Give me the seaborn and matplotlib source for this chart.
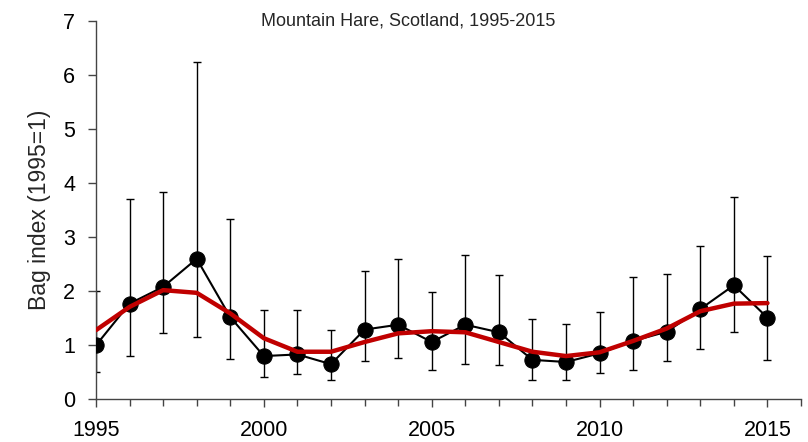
import numpy as np
import pandas as pd
import matplotlib
matplotlib.use("Agg")
import matplotlib.pyplot as plt
import seaborn as sns
from matplotlib.ticker import MultipleLocator

years = list(range(1995, 2016))
index_vals = [1.00, 1.77, 2.08, 2.60, 1.52, 0.80, 0.83, 0.65, 1.29, 1.38, 1.06,
              1.38, 1.24, 0.73, 0.69, 0.85, 1.08, 1.25, 1.67, 2.11, 1.51]
lower_ci = [0.51, 0.80, 1.23, 1.15, 0.74, 0.41, 0.47, 0.36, 0.70, 0.76, 0.54,
            0.66, 0.63, 0.36, 0.36, 0.48, 0.54, 0.71, 0.93, 1.25, 0.73]
upper_ci = [2.00, 3.70, 3.83, 6.24, 3.34, 1.65, 1.65, 1.28, 2.37, 2.59, 1.99,
            2.67, 2.30, 1.49, 1.40, 1.61, 2.26, 2.31, 2.84, 3.75, 2.66]
smoothed = [1.28, 1.71, 2.02, 1.97, 1.59, 1.13, 0.88, 0.88, 1.06, 1.22, 1.26,
            1.24, 1.06, 0.88, 0.80, 0.87, 1.08, 1.31, 1.63, 1.77, 1.78]

df = pd.DataFrame({"year": years, "index": index_vals, "lo": lower_ci,
                   "hi": upper_ci, "smooth": smoothed})

sns.set_theme(style="white")
plt.rcParams["font.family"] = ["Liberation Sans", "DejaVu Sans"]

fig = plt.figure(figsize=(8.08, 4.42), dpi=100)
ax = fig.add_axes([96 / 808, 1 - 399.3 / 442, (801 - 96) / 808, (399.3 - 21) / 442])

ax.errorbar(df["year"], df["index"],
            yerr=[df["index"] - df["lo"], df["hi"] - df["index"]],
            fmt="none", ecolor="black", elinewidth=1.0, capsize=3.2, capthick=1.0, zorder=2)
sns.lineplot(data=df, x="year", y="index", ax=ax, color="black", linewidth=1.5,
             marker="o", markersize=11, markeredgecolor="black", zorder=3)
sns.lineplot(data=df, x="year", y="smooth", ax=ax, color="#C00000", linewidth=3.2, zorder=4)

ax.set_xlim(1995, 2016)
ax.set_ylim(0, 7)
ax.xaxis.set_minor_locator(MultipleLocator(1))
ax.yaxis.set_major_locator(MultipleLocator(1))
ax.set_xticks([1995, 2000, 2005, 2010, 2015])
ax.tick_params(axis="both", which="major", direction="out", length=6, width=1,
               color="#444444", labelsize=15.5, labelcolor="black", bottom=True, left=True)
ax.tick_params(axis="x", which="minor", direction="out", length=5, width=1,
               color="#444444", bottom=True)
ax.tick_params(axis="x", which="major", pad=9)
ax.tick_params(axis="y", which="major", pad=9)
for side in ["top", "right"]:
    ax.spines[side].set_visible(False)
for side in ["left", "bottom"]:
    ax.spines[side].set_color("#444444")
    ax.spines[side].set_linewidth(1)

ax.set_xlabel("")
ax.set_ylabel("Bag index (1995=1)", fontsize=16.5, labelpad=9)
fig.text(0.505, 0.953, "Mountain Hare, Scotland, 1995-2015", ha="center", va="center", fontsize=13)

fig.savefig("out.png", dpi=100)
